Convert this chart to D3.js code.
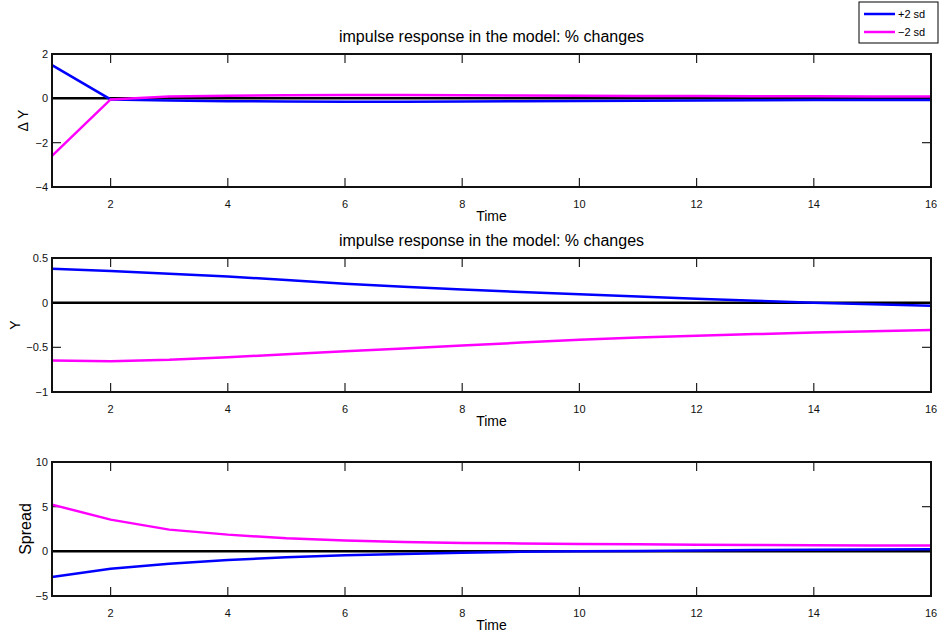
<!DOCTYPE html>
<html>
<head>
<meta charset="utf-8">
<script src="https://cdn.jsdelivr.net/npm/d3@7"></script>
<style>
  body { margin: 0; background: #fff; }
  svg { font-family: "Liberation Sans", Arial, sans-serif; }
</style>
</head>
<body>
<svg id="chart" width="940" height="634"></svg>
<script>
// periods 1..16
const periods = d3.range(1, 17);

// Delta Y panel
const dyPlus  = [1.5, -0.05, -0.1, -0.13, -0.14, -0.15, -0.15, -0.14, -0.13, -0.12, -0.11, -0.1, -0.09, -0.08, -0.07, -0.07];
const dyMinus = [-2.6, -0.05, 0.08, 0.12, 0.14, 0.15, 0.15, 0.14, 0.13, 0.12, 0.11, 0.1, 0.09, 0.09, 0.08, 0.08];

// Y panel
const yPlus  = [0.38, 0.354, 0.325, 0.293, 0.253, 0.211, 0.178, 0.147, 0.12, 0.095, 0.07, 0.045, 0.022, 0.0, -0.017, -0.035];
const yMinus = [-0.647, -0.655, -0.64, -0.61, -0.578, -0.545, -0.512, -0.48, -0.447, -0.415, -0.39, -0.37, -0.352, -0.335, -0.32, -0.305];

// Spread panel
const spPlus  = [-2.87, -1.94, -1.38, -0.97, -0.67, -0.45, -0.3, -0.15, -0.06, 0.0, 0.05, 0.1, 0.14, 0.17, 0.2, 0.22];
const spMinus = [5.23, 3.55, 2.43, 1.87, 1.46, 1.2, 1.05, 0.94, 0.88, 0.83, 0.79, 0.75, 0.71, 0.67, 0.65, 0.64];

const xTicks = [2, 4, 6, 8, 10, 12, 14, 16];
const legendLabels = ["+2 sd", "\u22122 sd"];
const colors = ["#0000ff", "#ff00ff"];

const panels = [
  { top: 54,  bottom: 187, domain: [-4, 2],   ticks: [-4, -2, 0, 2],     label: "\u0394 Y",  labelX: 23, labelSize: 14, title: "impulse response in the model: % changes", plus: dyPlus, minus: dyMinus },
  { top: 258, bottom: 392, domain: [-1, 0.5], ticks: [-1, -0.5, 0, 0.5], label: "Y",      labelX: 15, labelSize: 14, title: "impulse response in the model: % changes", plus: yPlus,  minus: yMinus },
  { top: 462, bottom: 596, domain: [-5, 10],  ticks: [-5, 0, 5, 10],     label: "Spread", labelX: 25, labelSize: 16, title: null, plus: spPlus, minus: spMinus }
];

const svg = d3.select("#chart");
const left = 52, right = 931, tickLen = 9;

panels.forEach(p => {
  const x = d3.scaleLinear().domain([1, 16]).range([left, right]);
  const y = d3.scaleLinear().domain(p.domain).range([p.bottom, p.top]);
  const g = svg.append("g");

  // ticks on all four sides, pointing inward
  xTicks.forEach(t => {
    g.append("line").attr("x1", x(t)).attr("x2", x(t)).attr("y1", p.bottom).attr("y2", p.bottom - tickLen)
      .attr("stroke", "#222").attr("stroke-width", 1.2);
    g.append("line").attr("x1", x(t)).attr("x2", x(t)).attr("y1", p.top).attr("y2", p.top + tickLen)
      .attr("stroke", "#222").attr("stroke-width", 1.2);
    g.append("text").attr("x", x(t)).attr("y", p.bottom + 21).attr("text-anchor", "middle")
      .attr("font-size", 11).attr("fill", "#111").text(t);
  });
  p.ticks.forEach(t => {
    g.append("line").attr("x1", left).attr("x2", left + tickLen).attr("y1", y(t)).attr("y2", y(t))
      .attr("stroke", "#222").attr("stroke-width", 1.2);
    g.append("line").attr("x1", right).attr("x2", right - tickLen).attr("y1", y(t)).attr("y2", y(t))
      .attr("stroke", "#222").attr("stroke-width", 1.2);
    let s = t < 0 ? "\u2212" + Math.abs(t) : String(t);
    g.append("text").attr("x", left - 4).attr("y", y(t) + 4).attr("text-anchor", "end")
      .attr("font-size", 11).attr("fill", "#111").text(s);
  });

  // zero line
  g.append("line").attr("x1", left).attr("x2", right).attr("y1", y(0)).attr("y2", y(0))
    .attr("stroke", "#000").attr("stroke-width", 2.5);

  const line = d3.line().x((d, i) => x(periods[i])).y(d => y(d));
  [p.plus, p.minus].forEach((s, k) => {
    g.append("path").datum(s).attr("d", line).attr("fill", "none")
      .attr("stroke", colors[k]).attr("stroke-width", 2.5);
  });

  // frame
  g.append("rect").attr("x", left).attr("y", p.top).attr("width", right - left).attr("height", p.bottom - p.top)
    .attr("fill", "none").attr("stroke", "#111").attr("stroke-width", 2);

  g.append("text").attr("x", (left + right) / 2).attr("y", p.bottom + 34).attr("text-anchor", "middle")
    .attr("font-size", 14).attr("fill", "#000").text("Time");

  const cy = (p.top + p.bottom) / 2;
  g.append("text").attr("transform", `translate(${p.labelX + p.labelSize * 0.35},${cy}) rotate(-90)`)
    .attr("text-anchor", "middle").attr("font-size", p.labelSize).attr("fill", "#000").text(p.label);

  if (p.title) {
    g.append("text").attr("x", (left + right) / 2).attr("y", p.top - 12).attr("text-anchor", "middle")
      .attr("font-size", 16).attr("fill", "#000").text(p.title);
  }
});

// legend
const lg = svg.append("g");
lg.append("rect").attr("x", 859).attr("y", 2).attr("width", 79).attr("height", 41)
  .attr("fill", "#fff").attr("stroke", "#000").attr("stroke-width", 1);
legendLabels.forEach((l, i) => {
  const ly = 14 + i * 18;
  lg.append("line").attr("x1", 864).attr("x2", 895).attr("y1", ly).attr("y2", ly)
    .attr("stroke", colors[i]).attr("stroke-width", 2.5);
  lg.append("text").attr("x", 898).attr("y", ly + 4).attr("font-size", 11).attr("fill", "#000").text(l);
});
</script>
</body>
</html>
